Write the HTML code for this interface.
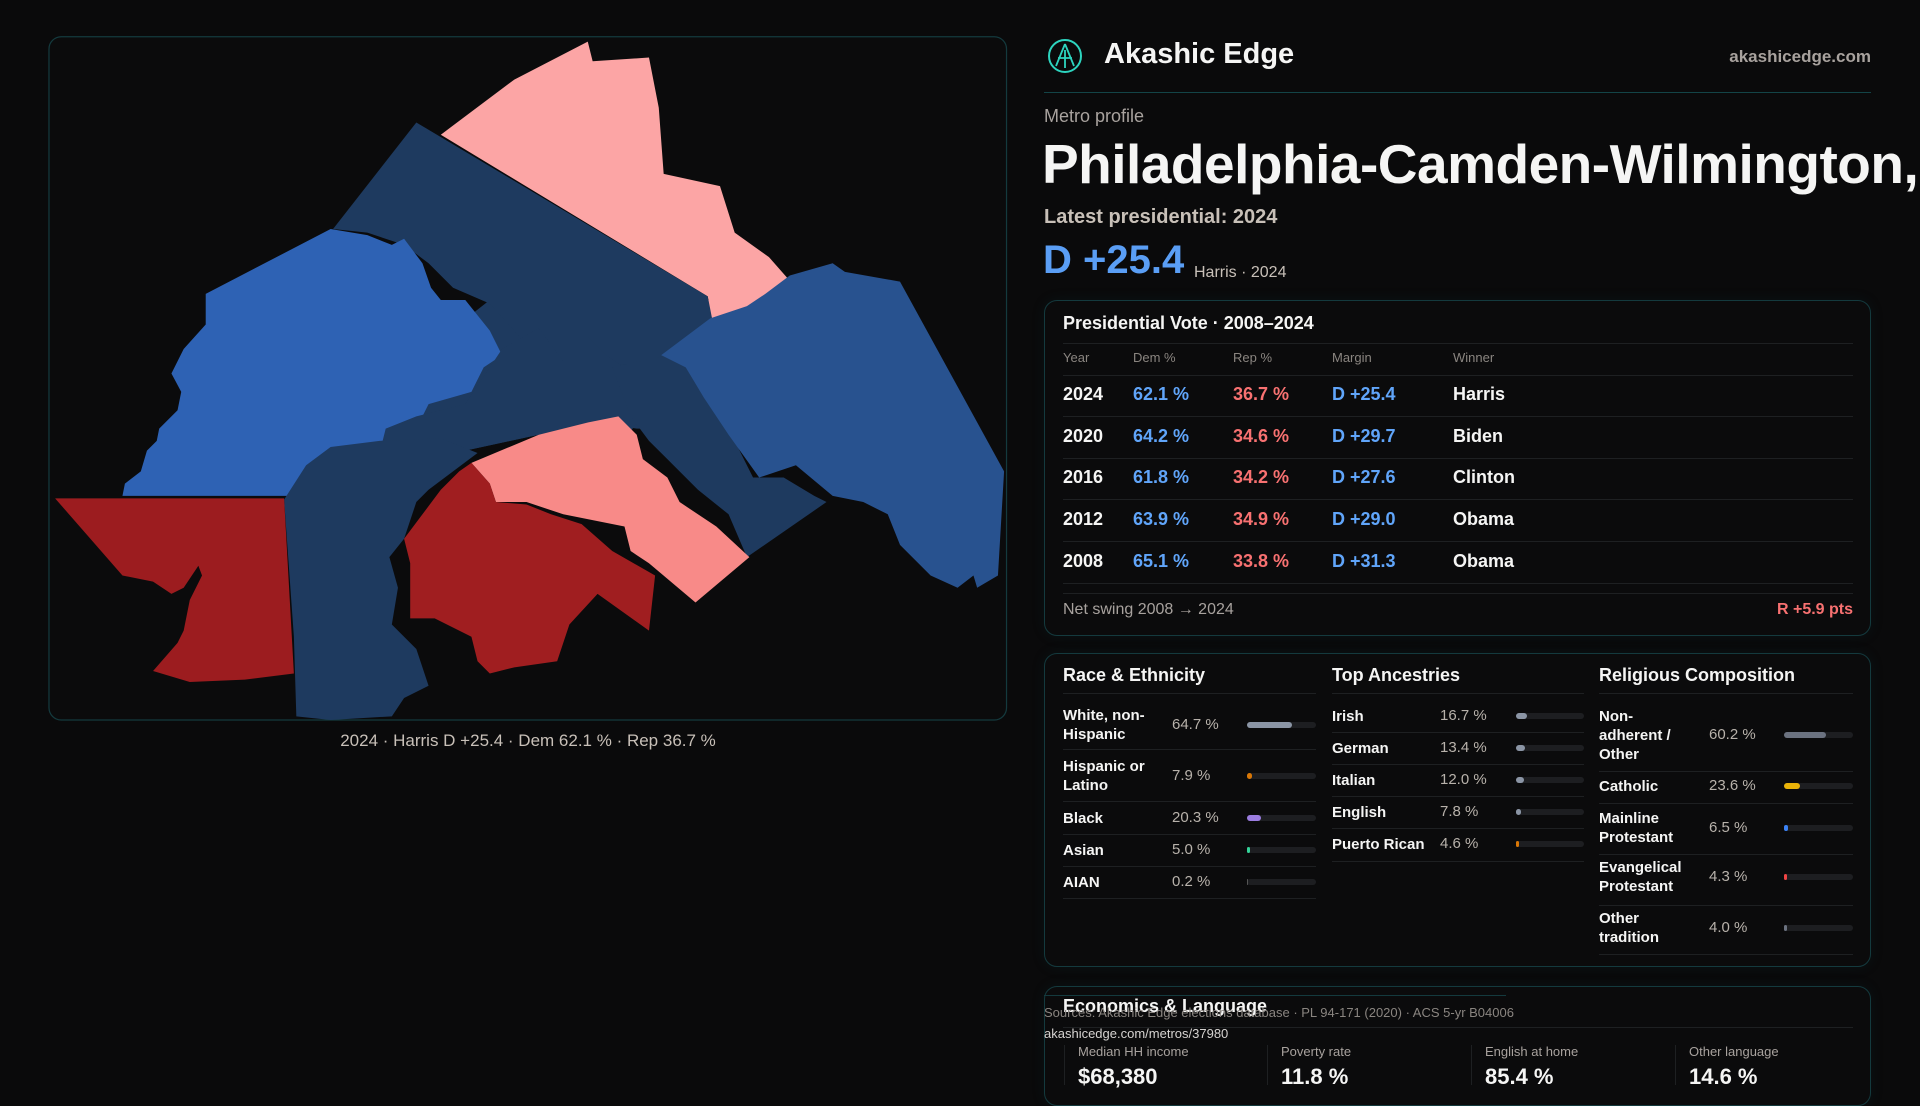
<!DOCTYPE html>
<html><head><meta charset="utf-8"><style>
*{box-sizing:border-box;margin:0;padding:0}
body{width:1920px;height:1080px;background:#0a0a0b;overflow:hidden;position:relative;font-family:"Liberation Sans",sans-serif;color:#f5f5f4}
.abs{position:absolute;white-space:nowrap}
.card{position:absolute;border:1px solid #143a3e;border-radius:13px;background:#0b0b0c;box-shadow:0 0 14px rgba(20,80,90,0.12)}
.g{color:#a8a29e}
.sep{position:absolute;height:1px;background:#1e2022}
.bar{position:absolute;height:6px;border-radius:3px;background:#1d1e21}
.bar i{display:block;height:6px;border-radius:3px}
</style></head><body>
<svg class="abs" style="left:0;top:0" width="1920" height="1080" viewBox="0 0 1568 882">
<rect x="40" y="30" width="782" height="558" rx="10" fill="#0b0b0c" stroke="#143a3e" stroke-width="1"/>
<polygon fill="#1e3a5f" points="330,300 400,245 580,245 585,280 565,300 578,330 560,350 520,350 480,345 440,355 380,368 320,365"/>
<polygon fill="#fca5a5" points="360,110 420,65 480,34 484,50 530,47 538,88 542,142 588,152 600,190 628,210 650,235 680,215 665,232 640,242 628,262 606,270 585,278 578,242"/>
<polygon fill="#1e3a5f" points="272,187 340,100 578,242 581,270 545,295 506,298 470,320 445,300 420,270 400,248 370,235 350,215 330,200 300,190"/>
<polygon fill="#2e62b4" points="168,240 270,187 300,192 320,200 330,195 345,215 352,235 360,245 380,245 400,270 410,290 395,300 385,320 350,330 340,350 320,355 310,370 280,372 240,405 100,405 102,395 115,385 120,368 128,360 130,350 145,335 148,320 140,305 150,285 168,265"/>
<polygon fill="#1e3a5f" points="310,370 315,350 340,340 380,330 400,300 410,285 440,268 460,295 480,275 495,290 510,300 545,290 560,295 540,330 525,335 520,345 510,360 480,345 440,355 380,368"/>
<polygon fill="#1e3a5f" points="500,300 545,290 570,302 575,325 600,360 615,390 640,390 665,405 675,410 610,455 595,420 570,400 545,375 530,360 515,340"/>
<polygon fill="#28528f" points="540,290 580,260 610,250 625,240 645,225 680,215 690,222 735,230 820,385 815,470 798,480 795,470 782,480 760,470 735,445 725,420 705,410 680,405 650,380 620,390 595,355 575,325 560,300"/>
<polygon fill="#f88a88" points="385,378 440,355 480,345 505,340 520,355 525,375 545,390 555,410 585,430 612,455 568,492 530,460 515,450 510,430 460,420 430,410 405,410 400,395"/>
<polygon fill="#a01e20" points="330,440 360,400 375,385 385,378 400,395 405,410 430,412 450,420 475,428 500,450 535,470 530,515 488,485 465,510 455,540 420,545 400,550 390,540 385,520 355,505 335,505 335,460"/>
<polygon fill="#1e3a5f" points="232,408 250,380 270,365 310,360 360,358 390,370 350,400 340,410 330,440 318,455 325,480 320,510 340,530 350,560 330,570 320,585 270,588 242,585 240,520"/>
<polygon fill="#9c1c1f" points="45,407 232,407 240,550 200,555 155,557 125,548 145,525 150,515 155,490 165,470 162,462 150,480 140,485 125,475 100,470"/>
</svg>
<div class="abs" style="left:0;width:1056px;text-align:center;top:731px;font-size:17px;color:#c8c0b8">2024 · Harris D +25.4 · Dem 62.1 % · Rep 36.7 %</div>

<svg class="abs" style="left:1047px;top:38px" width="36" height="36" viewBox="0 0 36 36"><circle cx="18" cy="18" r="16" fill="none" stroke="#2dd4bf" stroke-width="2"/><path d="M18 6 L9 28 M18 6 L27 28 M11 20 H25 M18 12 V30" stroke="#2dd4bf" stroke-width="1.8" fill="none"/></svg>
<div class="abs" style="left:1104px;top:38px;font-size:29px;font-weight:bold">Akashic Edge</div>
<div class="abs g" style="right:49px;top:47px;font-size:17px;font-weight:bold">akashicedge.com</div>
<div class="abs" style="left:1044px;top:92px;width:827px;height:1px;background:#134447"></div>
<div class="abs g" style="left:1044px;top:106px;font-size:18px">Metro profile</div>
<div class="abs" style="left:1042px;top:132px;font-size:55px;font-weight:bold;letter-spacing:-0.5px">Philadelphia-Camden-Wilmington,</div>
<div class="abs" style="left:1044px;top:206px;font-size:20px;color:#c8c0b8;font-weight:bold">Latest presidential: 2024</div>
<div class="abs" style="left:1043px;top:238px;font-size:40px;color:#5a9ef5;font-weight:bold">D +25.4</div>
<div class="abs" style="left:1194px;top:264px;font-size:16px;color:#c8c0b8">Harris · 2024</div>

<div class="card" style="left:1044px;top:300px;width:827px;height:336px"></div>
<div class="abs" style="left:1063px;top:313px;font-size:18px;font-weight:bold">Presidential Vote · 2008–2024</div>
<div class="sep" style="left:1063px;top:343px;width:790px"></div>
<div id="vt"></div>
<div class="sep" style="left:1063px;top:593px;width:790px"></div>
<div class="abs g" style="left:1063px;top:601px;font-size:16px">Net swing 2008 → 2024</div>
<div class="abs" style="right:67px;top:601px;font-size:16px;color:#f87171;font-weight:bold">R +5.9 pts</div>

<div class="card" style="left:1044px;top:653px;width:827px;height:314px"></div>
<div id="demo"></div>

<div class="card" style="left:1044px;top:986px;width:827px;height:120px"></div>
<div class="abs" style="left:1063px;top:996px;font-size:18px;font-weight:bold">Economics &amp; Language</div>
<div class="abs" style="left:1044px;top:995px;width:462px;height:1px;background:#143a3e"></div>
<div class="abs g" style="left:1044px;top:1005px;font-size:13px;color:#8a8580">Sources: Akashic Edge elections database · PL 94-171 (2020) · ACS 5-yr B04006</div>
<div class="sep" style="left:1063px;top:1027px;width:790px"></div>
<div class="abs" style="left:1044px;top:1026px;font-size:13px;color:#d6d3d1">akashicedge.com/metros/37980</div>
<div id="econ"></div>

<script>
const years=['2024','2020','2016','2012','2008'];
const demPct=[62.1,64.2,61.8,63.9,65.1];
const repPct=[36.7,34.6,34.2,34.9,33.8];
const margins=[25.4,29.7,27.6,29.0,31.3];
const winners=['Harris','Biden','Clinton','Obama','Obama'];
const raceLabels=['White, non-<br>Hispanic','Hispanic or<br>Latino','Black','Asian','AIAN'];
const raceValues=[64.7,7.9,20.3,5.0,0.2];
const ancLabels=['Irish','German','Italian','English','Puerto Rican'];
const ancValues=[16.7,13.4,12.0,7.8,4.6];
const relLabels=['Non-<br>adherent /<br>Other','Catholic','Mainline<br>Protestant','Evangelical<br>Protestant','Other<br>tradition'];
const relValues=[60.2,23.6,6.5,4.3,4.0];
const econLabels=['Median HH income','Poverty rate','English at home','Other language'];
const econValues=['$68,380','11.8 %','85.4 %','14.6 %'];

function mk(parent,html,css,name,inter){const d=document.createElement('div');d.className='abs';d.style.cssText=css;d.innerHTML=html;


parent.appendChild(d);return d;}
const vt=document.getElementById('vt');
const cols=[1063,1133,1233,1332,1453];
['Year','Dem %','Rep %','Margin','Winner'].forEach((h,i)=>mk(vt,h,`left:${cols[i]}px;top:350px;font-size:13px;color:#8a8580`,'table-header-'+h.toLowerCase().replace(/\W+/g,''),false));
const sp=document.createElement('div');sp.className='sep';sp.style.cssText='left:1063px;top:375px;width:790px';vt.appendChild(sp);
years.forEach((y,i)=>{const top=384+i*41.7;
mk(vt,y,`left:${cols[0]}px;top:${top}px;font-size:18px;font-weight:bold`,'row-year-'+y,false);
mk(vt,demPct[i].toFixed(1)+' %',`left:${cols[1]}px;top:${top}px;font-size:18px;font-weight:bold;color:#60a5fa`,'row-dem-'+y,false);
mk(vt,repPct[i].toFixed(1)+' %',`left:${cols[2]}px;top:${top}px;font-size:18px;font-weight:bold;color:#f87171`,'row-rep-'+y,false);
const m=margins[i];
mk(vt,(m>=0?'D +':'R +')+Math.abs(m).toFixed(1),`left:${cols[3]}px;top:${top}px;font-size:18px;font-weight:bold;color:${m>=0?'#60a5fa':'#f87171'}`,'row-margin-'+y,false);
mk(vt,winners[i],`left:${cols[4]}px;top:${top}px;font-size:18px;font-weight:bold`,'row-winner-'+y,false);
const s=document.createElement('div');s.className='sep';s.style.cssText=`left:1063px;top:${top+32}px;width:790px`;vt.appendChild(s);});

const demo=document.getElementById('demo');
function section(title,x0,w,valX,barX,labels,values,centers,seps,colors,key){
mk(demo,title,`left:${x0}px;top:665px;font-size:18px;font-weight:bold`,key+'-title',false);
let s=document.createElement('div');s.className='sep';s.style.cssText=`left:${x0}px;top:693px;width:${w}px`;demo.appendChild(s);
labels.forEach((l,i)=>{const c=centers[i];const lines=l.split('<br>').length;
mk(demo,l,`left:${x0}px;top:${c-lines*9.5}px;font-size:15px;line-height:19px;font-weight:bold`,key+'-label-'+i,false);
mk(demo,values[i].toFixed(1)+' %',`left:${valX}px;top:${c-9}px;font-size:15px;color:#b8b2ab`,key+'-value-'+i,false);
const b=document.createElement('div');b.className='bar';b.style.cssText=`left:${barX}px;top:${c-3}px;width:${x0+w-barX}px`;


const f=document.createElement('i');f.style.width=Math.max(values[i],1.5)+'%';f.style.background=colors[i];b.appendChild(f);demo.appendChild(b);
const sp=document.createElement('div');sp.className='sep';sp.style.cssText=`left:${x0}px;top:${seps[i]}px;width:${w}px`;demo.appendChild(sp);});}
section('Race &amp; Ethnicity',1063,253,1172,1247,raceLabels,raceValues,[725,776,818,850,882],[749,801,834,866,898],['#8b95a5','#d97706','#9b7de0','#34d399','#555'],'race');
section('Top Ancestries',1332,252,1440,1516,ancLabels,ancValues,[716,748,780,812,844],[732,764,796,828,861],['#8b95a5','#8b95a5','#8b95a5','#8b95a5','#d97706'],'ancestry');
section('Religious Composition',1599,254,1709,1784,relLabels,relValues,[735,786,828,877,928],[771,803,854,905,954],['#6b7280','#eab308','#3b82f6','#ef4444','#6b7280'],'religion');

const econ=document.getElementById('econ');
[1064,1267,1471,1675].forEach((x,i)=>{
const b=document.createElement('div');b.className='abs';b.style.cssText=`left:${x}px;top:1045px;width:1px;height:40px;background:#1e2022`;econ.appendChild(b);
mk(econ,econLabels[i],`left:${x+14}px;top:1044px;font-size:13px;color:#a8a29e`,'econ-label-'+i,false);
mk(econ,econValues[i],`left:${x+14}px;top:1064px;font-size:22px;font-weight:bold`,'econ-value-'+i,false);});
</script>
</body></html>
